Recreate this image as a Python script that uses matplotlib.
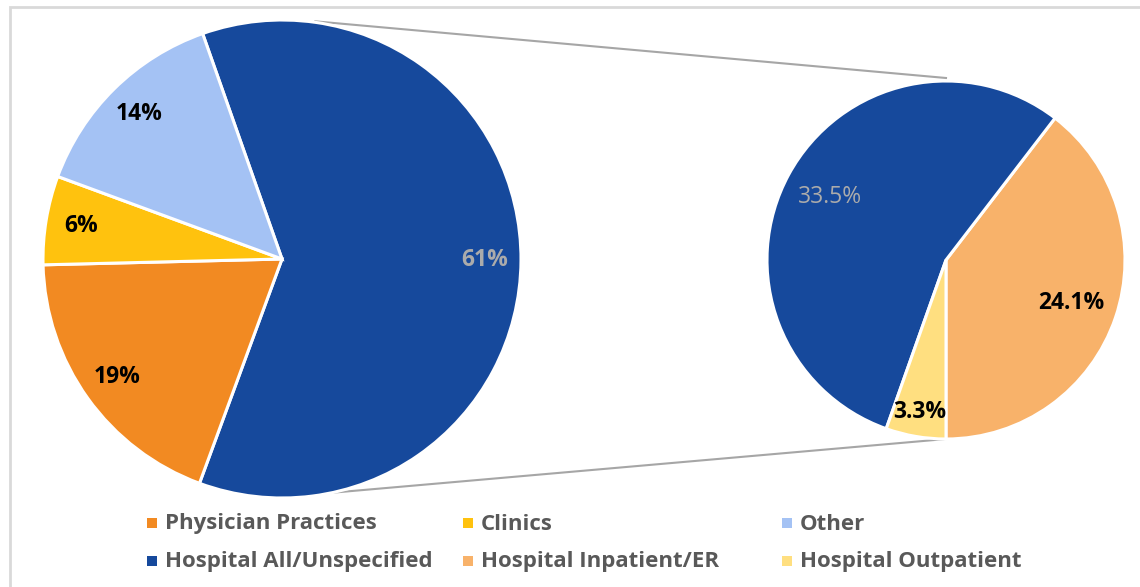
import matplotlib
matplotlib.use("Agg")
import matplotlib.pyplot as plt
import numpy as np
from matplotlib.patches import Rectangle

plt.rcParams['font.family'] = ['Open Sans', 'DejaVu Sans']

# ---- data ----
main_labels = ["Hospital All/Unspecified", "Physician Practices", "Clinics", "Other"]
main_values = [61, 19, 6, 14]
main_colors = ["#16499c", "#f28a22", "#ffc20e", "#a4c2f4"]
main_text = ["61%", "19%", "6%", "14%"]

sub_labels = ["Hospital Inpatient/ER", "Hospital All/Unspecified", "Hospital Outpatient"]
sub_values = [24.1, 33.5, 3.3]
sub_colors = ["#f8b26a", "#16499c", "#ffdf80"]
sub_text = ["24.1%", "33.5%", "3.3%"]

legend_labels = [["Physician Practices", "Hospital All/Unspecified"],
                 ["Clinics", "Hospital Inpatient/ER"],
                 ["Other", "Hospital Outpatient"]]
legend_colors = [["#f28a22", "#16499c"],
                 ["#ffc20e", "#f8b26a"],
                 ["#a4c2f4", "#ffdf80"]]

W, H = 1140, 587
fig = plt.figure(figsize=(W / 100, H / 100), dpi=100)
ax = fig.add_axes([0, 0, 1, 1])

# left pie
c1 = (282, H - 259)
r1 = 239
start1 = 109.4
w1, t1, a1 = ax.pie(main_values, colors=main_colors, center=c1, radius=r1,
                    startangle=start1, counterclock=False, autopct='%1.0f%%',
                    pctdistance=0.85, frame=True,
                    wedgeprops=dict(edgecolor='white', linewidth=2.2))
for i, t in enumerate(a1):
    t.set_text(main_text[i])
    t.set_fontsize(16.5)
    t.set_fontweight('bold')
    t.set_color('#ababab' if i == 0 else 'black')

# right pie
c2 = (946, H - 260)
r2 = 179
w2, t2, a2 = ax.pie(sub_values, colors=sub_colors, center=c2, radius=r2,
                    startangle=-90, counterclock=True, autopct='%1.1f%%',
                    pctdistance=0.74, frame=True,
                    wedgeprops=dict(edgecolor='white', linewidth=2.2))
for i, t in enumerate(a2):
    t.set_text(sub_text[i])
    t.set_fontsize(16.5)
    if i == 1:
        t.set_color('#ababab')
        t.set_fontweight('normal')
    else:
        t.set_color('black')
        t.set_fontweight('bold')
# push small slice label outward
x, y = a2[2].get_position()
dx, dy = x - c2[0], y - c2[1]
a2[2].set_position((c2[0] + dx * 0.86 / 0.74, c2[1] + dy * 0.86 / 0.74))

# connector lines
ang_top = np.deg2rad(82)
ang_bot = np.deg2rad(-78)
ax.plot([c1[0] + r1 * np.cos(ang_top), c2[0]], [c1[1] + r1 * np.sin(ang_top) + 1, c2[1] + r2 + 3],
        color='#a6a6a6', lw=1.5, zorder=0)
ax.plot([c1[0] + r1 * np.cos(ang_bot), c2[0]], [c1[1] + r1 * np.sin(ang_bot), c2[1] - r2],
        color='#a6a6a6', lw=1.5, zorder=0)

# frame border
ax.add_patch(Rectangle((10, -10), W + 20, H - 7 + 10, fill=False, edgecolor='#d9d9d9', lw=2, zorder=-1))

# legend (manual)
col_x = [152, 468, 787]
row_y = [H - 523, H - 561]
for ci in range(3):
    for ri in range(2):
        ax.add_patch(Rectangle((col_x[ci] - 5, row_y[ri] - 5), 10, 10,
                               color=legend_colors[ci][ri], lw=0))
        ax.text(col_x[ci] + 13, row_y[ri] - 1, legend_labels[ci][ri], fontsize=16,
                fontweight='bold', color='#595959', va='center', ha='left')

ax.set_xlim(0, W)
ax.set_ylim(0, H)
ax.set_aspect('equal')
ax.axis('off')

fig.savefig("out.png", dpi=100)
